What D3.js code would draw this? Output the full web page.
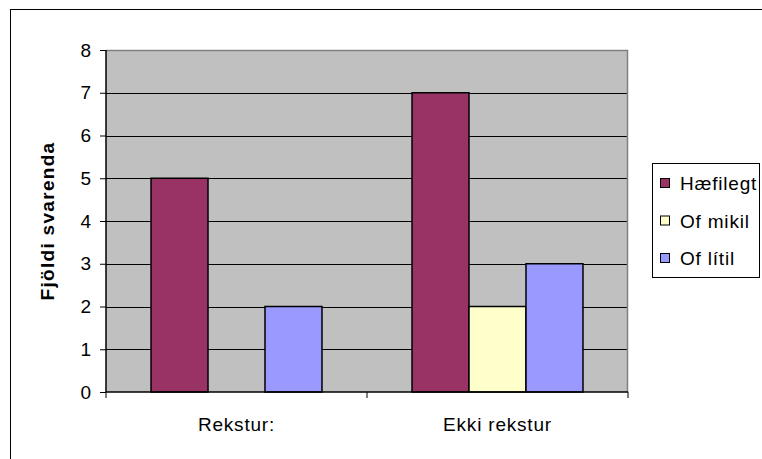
<!DOCTYPE html>
<html>
<head>
<meta charset="utf-8">
<script src="https://cdn.jsdelivr.net/npm/d3@7"></script>
<style>
html,body{margin:0;padding:0;background:#fff;}
svg{display:block;}
text{font-family:"Liberation Sans",Arial,sans-serif;fill:#000;}
</style>
</head>
<body>
<svg id="chart" width="762" height="459"></svg>
<script>
const categories = ["Rekstur:", "Ekki rekstur"];
const seriesNames = ["Hæfilegt", "Of mikil", "Of lítil"];
const hæfilegt = [5, 7];
const ofMikil = [0, 2];
const ofLitil = [2, 3];
const yTicks = [0, 1, 2, 3, 4, 5, 6, 7, 8];
const colors = ["#993366", "#FFFFCC", "#9999FF"];
const seriesValues = [hæfilegt, ofMikil, ofLitil];

const svg = d3.select("#chart");
const L = 106, R = 628, T = 50, B = 392;

// outer border
svg.append("rect").attr("x", 10.5).attr("y", 9.5).attr("width", 800).attr("height", 500)
  .attr("fill", "#fff").attr("stroke", "#000").attr("stroke-width", 1);

const x0 = d3.scaleBand().domain(categories).range([L, R]).paddingInner(0).paddingOuter(0);
const x1 = d3.scaleBand().domain(seriesNames).range([0, x0.bandwidth()]).paddingInner(0).paddingOuter(0.79);
const y = d3.scaleLinear().domain([0, 8]).range([B, T]);

// plot background
svg.append("rect").attr("x", L).attr("y", T).attr("width", R - L).attr("height", B - T).attr("fill", "#C0C0C0");

// gridlines
svg.append("g").selectAll("line").data(yTicks.filter(d => d > 0 && d < 8)).join("line")
  .attr("x1", L).attr("x2", R).attr("y1", d => Math.round(y(d)) + 0.5).attr("y2", d => Math.round(y(d)) + 0.5)
  .attr("stroke", "#000").attr("stroke-width", 1);

// plot border top/right gray
svg.append("path").attr("d", `M${L},${T + 0.5}H${R - 0.5}V${B}`).attr("fill", "none").attr("stroke", "#808080").attr("stroke-width", 1.5);

// bars
const data = [];
categories.forEach((c, i) => seriesNames.forEach((s, j) => {
  data.push({c, s, v: seriesValues[j][i], color: colors[j]});
}));
svg.append("g").selectAll("rect").data(data.filter(d => d.v > 0)).join("rect")
  .attr("x", d => x0(d.c) + x1(d.s))
  .attr("y", d => y(d.v))
  .attr("width", x1.bandwidth())
  .attr("height", d => y(0) - y(d.v))
  .attr("fill", d => d.color)
  .attr("stroke", "#000").attr("stroke-width", 1.5);

// y axis
const yAxis = d3.axisLeft(y).tickValues(yTicks).tickSize(6).tickPadding(9).tickFormat(d3.format("d"));
const gy = svg.append("g").attr("transform", `translate(${L},0)`).call(yAxis);
gy.select(".domain").attr("stroke", "#000").attr("stroke-width", 1.5).attr("d", `M0,${T}V${B}`);
gy.selectAll(".tick line").attr("stroke", "#000");
gy.selectAll(".tick text").style("font-size", "19px").attr("fill", "#000");

// x axis
const gx = svg.append("g").attr("transform", `translate(0,${B})`);
gx.append("line").attr("x1", L).attr("x2", R).attr("y1", 0).attr("y2", 0).attr("stroke", "#000").attr("stroke-width", 1.5);
const xTickPos = [L, ...categories.map(c => x0(c) + x0.bandwidth())];
gx.selectAll("line.t").data(xTickPos).join("line").attr("class", "t")
  .attr("x1", d => d).attr("x2", d => d).attr("y1", 0).attr("y2", 6).attr("stroke", "#000");
gx.selectAll("text").data(categories).join("text")
  .attr("x", d => x0(d) + x0.bandwidth() / 2).attr("y", 39)
  .attr("text-anchor", "middle").style("font-size", "19px").style("letter-spacing", "0.8px")
  .text(d => d);

// y title
svg.append("text").attr("transform", `translate(54,${(T + B) / 2}) rotate(-90)`)
  .attr("text-anchor", "middle").style("font-size", "19px").style("font-weight", "bold").style("letter-spacing", "1.3px")
  .text("Fjöldi svarenda");

// legend
const lg = svg.append("g");
lg.append("rect").attr("x", 652.5).attr("y", 163.5).attr("width", 107).attr("height", 114)
  .attr("fill", "#fff").attr("stroke", "#000").attr("stroke-width", 1);
seriesNames.forEach((s, i) => {
  const cy = 183 + i * 37.5;
  lg.append("rect").attr("x", 660.5).attr("y", cy - 4.5).attr("width", 9).attr("height", 9)
    .attr("fill", colors[i]).attr("stroke", "#000").attr("stroke-width", 1);
  lg.append("text").attr("x", 680).attr("y", cy + 7).style("font-size", "19px").style("letter-spacing", "0.8px").text(s);
});
</script>
</body>
</html>
